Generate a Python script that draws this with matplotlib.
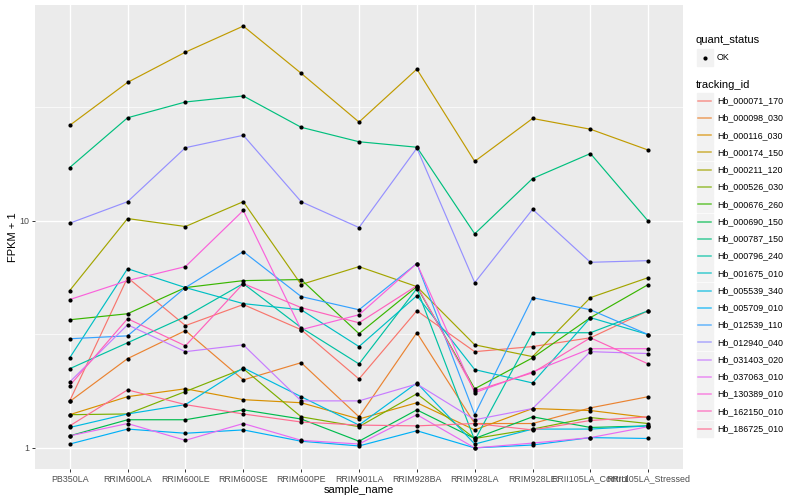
import numpy as np
import matplotlib
matplotlib.use("Agg")
import matplotlib.pyplot as plt
from matplotlib.patches import Rectangle
from matplotlib.lines import Line2D

plt.rcParams['font.family'] = ['Liberation Sans', 'DejaVu Sans']

# eje x
samples = ["PB350LA", "RRIM600LA", "RRIM600LE", "RRIM600SE", "RRIM600PE",
           "RRIM901LA", "RRIM928BA", "RRIM928LA", "RRIM928LE",
           "RRII105LA_Control", "RRII105LA_Stressed"]

tracking_ids = ["Hb_000071_170", "Hb_000098_030", "Hb_000116_030", "Hb_000174_150",
                "Hb_000211_120", "Hb_000526_030", "Hb_000676_260", "Hb_000690_150",
                "Hb_000787_150", "Hb_000796_240", "Hb_001675_010", "Hb_005539_340",
                "Hb_005709_010", "Hb_012539_110", "Hb_012940_040", "Hb_031403_020",
                "Hb_037063_010", "Hb_130389_010", "Hb_162150_010", "Hb_186725_010"]

# paleta hue de ggplot para 20 niveles
colors = ["#F8766D", "#EA8331", "#D89000", "#C09B00", "#A3A500", "#7CAE00",
          "#39B600", "#00BB4E", "#00BF7D", "#00C1A3", "#00BFC4", "#00BAE0",
          "#00B0F6", "#35A2FF", "#9590FF", "#C77CFF", "#E76BF3", "#FA62DB",
          "#FF62BC", "#FF6C91"]

# valores FPKM + 1 por muestra
hb_000071_170 = [1.61, 5.61, 3.45, 4.27, 3.31, 2.01, 4.01, 2.65, 2.79, 3.05, 4.01]
hb_000098_030 = [1.60, 2.47, 3.28, 1.99, 2.37, 1.37, 3.21, 1.28, 1.28, 1.50, 1.68]
hb_000116_030 = [1.40, 1.68, 1.82, 1.63, 1.58, 1.34, 1.58, 1.20, 1.49, 1.46, 1.36]
hb_000174_150 = [26.2, 40.5, 55.0, 71.6, 44.4, 27.1, 46.3, 18.2, 28.1, 25.2, 20.4]
hb_000211_120 = [4.92, 10.2, 9.41, 12.1, 5.23, 6.27, 5.12, 2.84, 2.52, 4.58, 5.61]
hb_000526_030 = [1.40, 1.41, 1.77, 2.23, 1.37, 1.24, 1.73, 1.10, 1.21, 1.36, 1.28]
hb_000676_260 = [3.66, 3.89, 5.07, 5.44, 5.50, 3.18, 5.12, 1.82, 2.49, 3.74, 5.23]
hb_000690_150 = [1.13, 1.33, 1.33, 1.47, 1.34, 1.07, 1.47, 1.10, 1.37, 1.23, 1.25]
hb_000787_150 = [17.1, 28.3, 33.2, 35.3, 25.7, 22.2, 21.0, 8.74, 15.3, 19.7, 9.93]
hb_000796_240 = [2.23, 2.90, 3.78, 5.28, 3.38, 2.34, 5.02, 1.08, 3.21, 3.21, 4.01]
hb_001675_010 = [2.49, 6.14, 5.07, 4.31, 4.05, 2.79, 4.67, 2.21, 1.93, 3.74, 3.15]
hb_005539_340 = [1.23, 1.41, 1.55, 2.25, 1.68, 1.26, 1.93, 1.04, 1.21, 1.21, 1.25]
hb_005709_010 = [1.04, 1.21, 1.16, 1.20, 1.07, 1.02, 1.19, 1.00, 1.03, 1.11, 1.10]
hb_012539_110 = [3.02, 3.11, 5.07, 7.30, 4.63, 4.05, 6.47, 1.40, 4.58, 4.05, 3.15]
hb_012940_040 = [9.73, 12.1, 20.9, 23.7, 12.1, 9.31, 20.8, 5.33, 11.2, 6.55, 6.66]
hb_031403_020 = [1.95, 3.48, 2.65, 2.84, 1.61, 1.61, 1.91, 1.33, 1.49, 2.65, 2.60]
hb_037063_010 = [1.13, 1.28, 1.08, 1.28, 1.08, 1.04, 1.40, 1.00, 1.05, 1.11, 1.24]
hb_130389_010 = [4.49, 5.44, 6.27, 11.07, 3.31, 3.85, 6.47, 1.75, 2.16, 2.73, 2.73]
hb_162150_010 = [1.88, 3.70, 2.81, 5.28, 4.14, 3.55, 5.17, 1.78, 2.14, 3.05, 2.34]
hb_186725_010 = [1.25, 1.80, 1.55, 1.41, 1.30, 1.26, 1.25, 1.28, 1.20, 1.32, 1.37]

series = [hb_000071_170, hb_000098_030, hb_000116_030, hb_000174_150, hb_000211_120,
          hb_000526_030, hb_000676_260, hb_000690_150, hb_000787_150, hb_000796_240,
          hb_001675_010, hb_005539_340, hb_005709_010, hb_012539_110, hb_012940_040,
          hb_031403_020, hb_037063_010, hb_130389_010, hb_162150_010, hb_186725_010]

W, H = 800, 500
fig = plt.figure(figsize=(W / 100, H / 100), dpi=100)

def fx(x):
    return x / W

def fy(y):
    return 1 - y / H

ax = fig.add_axes([fx(35), fy(469), (683 - 35) / W, (469 - 5) / H])
ax.set_facecolor("#EBEBEB")
for s in ax.spines.values():
    s.set_visible(False)

x = np.arange(len(samples))
for vals, col in zip(series, colors):
    ax.plot(x, vals, color=col, lw=0.85, zorder=2)
for vals in series:
    ax.plot(x, vals, 'o', color='black', ms=3.0, mec='black', mew=0, zorder=3)

ax.set_yscale('log')
lo = np.log10(min(min(v) for v in series))
hi = np.log10(max(max(v) for v in series))
pad = (hi - lo) * 0.05
ax.set_ylim(10 ** (lo - pad), 10 ** (hi + pad))
ax.set_xlim(-0.6, len(samples) - 0.4)

ax.set_yticks([1, 10])
ax.set_yticklabels(["1", "10"])
ax.set_yticks([10 ** 0.5, 10 ** 1.5], minor=True)
ax.yaxis.set_minor_formatter(plt.NullFormatter())
ax.set_xticks(x)
ax.set_xticklabels(samples)

ax.grid(which='major', color='white', lw=1.0, zorder=0)
ax.grid(which='minor', axis='y', color='white', lw=0.5, zorder=0)
ax.set_axisbelow(True)
ax.tick_params(which='major', length=2.2, width=0.7, color='#333333',
               labelsize=6.4, labelcolor='#4D4D4D', pad=1.8)
ax.tick_params(which='minor', length=0)

ax.set_xlabel("sample_name", fontsize=8, labelpad=1)
ax.set_ylabel("FPKM + 1", fontsize=8, labelpad=1)

# leyenda a mano, estilo ggplot
key_fill = "#F2F2F2"
fig.text(fx(696), fy(40), "quant_status", fontsize=8, va='center', ha='left')
fig.patches.append(Rectangle((fx(696.5), fy(65.5)), 16 / W, 16 / H,
                             transform=fig.transFigure, color=key_fill))
fig.lines.append(Line2D([fx(704.5)], [fy(57.5)], marker='o', color='black',
                        ms=3.0, mew=0, transform=fig.transFigure))
fig.text(fx(717), fy(57.5), "OK", fontsize=6.4, va='center', ha='left')

fig.text(fx(696), fy(84.5), "tracking_id", fontsize=8, va='center', ha='left')
step = 17.26
for i, (name, col) in enumerate(zip(tracking_ids, colors)):
    cy = 100.7 + i * step
    fig.patches.append(Rectangle((fx(696.5), fy(cy + 8)), 16 / W, 16 / H,
                                 transform=fig.transFigure, color=key_fill))
    fig.lines.append(Line2D([fx(698), fx(711)], [fy(cy), fy(cy)], color=col,
                            lw=1.1, alpha=0.75, transform=fig.transFigure))
    fig.text(fx(717), fy(cy), name, fontsize=6.4, va='center', ha='left')

fig.savefig("out.png", dpi=100)
